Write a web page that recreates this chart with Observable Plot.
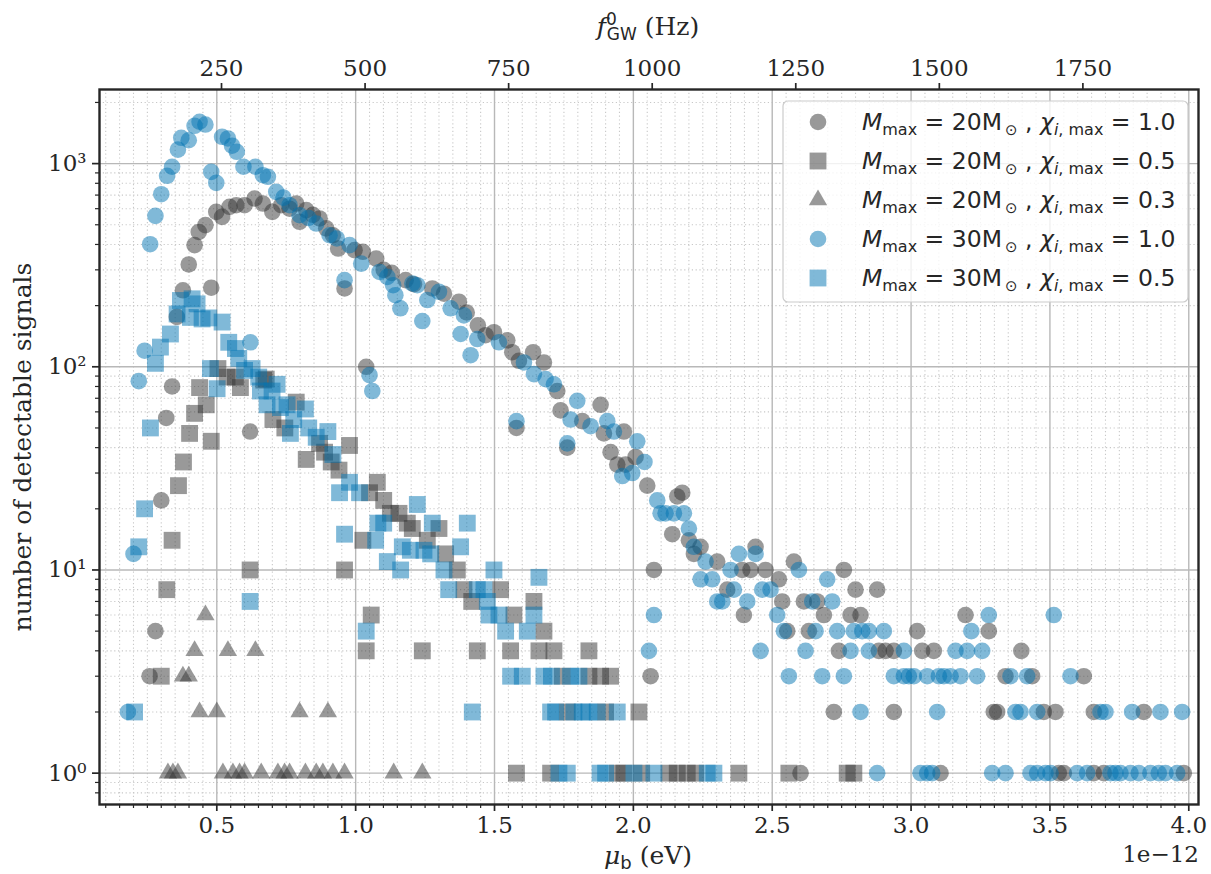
<!DOCTYPE html>
<html><head><meta charset="utf-8">
<script src="https://cdn.jsdelivr.net/npm/d3@7"></script>
<script src="https://cdn.jsdelivr.net/npm/@observablehq/plot@0.6"></script>
<style>
html,body{margin:0;padding:0;background:#fff;}
#chart{position:relative;width:1211px;height:874px;}
</style></head><body><div id="chart"></div>
<script>
// ---------------- DATA (mu_b in units of 1e-12 eV, number of detectable signals) ----------------
// M_max = 20 Msun, chi_max = 1.0 (grey circles)
const m20c10_x = [0.258,0.279,0.300,0.318,0.339,0.356,0.378,0.399,0.420,0.435,
0.459,0.480,0.498,0.519,0.546,0.570,0.600,0.620,0.636,0.666,
0.700,0.732,0.762,0.786,0.798,0.822,0.846,0.870,0.894,0.918,
0.937,0.960,0.996,1.026,1.038,1.074,1.101,1.130,1.180,1.210,
1.276,1.318,1.372,1.400,1.440,1.468,1.498,1.546,1.564,1.579,
1.588,1.639,1.678,1.726,1.738,1.762,1.816,1.882,1.894,1.918,
1.942,1.966,1.972,2.008,2.050,2.062,2.074,2.140,2.158,2.176,
2.200,2.218,2.242,2.302,2.338,2.392,2.398,2.422,2.440,2.476,
2.524,2.536,2.554,2.578,2.602,2.614,2.632,2.662,2.686,2.722,
2.740,2.758,2.782,2.800,2.818,2.878,2.884,2.908,2.938,2.938,
3.022,3.040,3.082,3.106,3.196,3.280,3.298,3.310,3.340,3.397,
3.436,3.478,3.520,3.532,3.550,3.622,3.658,3.658,3.694,3.838,
3.982];
const m20c10_y = [3,5,22,56,80,176,238,319,397,461,
498,245,579,547,613,624,624,48,673,636,
579,624,600,636,517,590,560,537,480,444,
382,243,375,368,100,341,300,290,267,255,
243,229,209,185,160,143,148,135,118,50,
107,118,105,76,61,40,54,65,47,38,
33,48,33,36,26,3,10,15,23,24,
14,12,13,11,8,10,6,10,13,10,
9,7,5,11,1,7,5,7,6,2,
4,10,6,8,6,8,4,4,4,2,
5,4,4,1,6,5,2,2,3,4,
3,2,2,1,1,3,2,1,1,2,
1];

// M_max = 20 Msun, chi_max = 0.5 (grey squares)
const m20c05_x = [0.300,0.320,0.339,0.362,0.380,0.402,0.420,0.438,0.462,0.480,
0.504,0.537,0.567,0.585,0.620,0.669,0.678,0.702,0.745,0.786,
0.822,0.870,0.888,0.912,0.940,0.960,0.978,1.026,1.038,1.050,
1.056,1.078,1.101,1.125,1.156,1.186,1.204,1.240,1.258,1.300,
1.324,1.366,1.390,1.418,1.438,1.522,1.558,1.570,1.579,1.642,
1.660,1.678,1.702,1.714,1.744,1.762,1.840,1.840,1.882,1.900,
1.918,1.942,1.966,2.020,2.030,2.128,2.158,2.194,2.224,2.380,
2.560,2.770,2.794];
const m20c05_y = [3,8,14,26,34,47,59,79,65,43,
98,89,89,79,10,86,87,55,50,67,
35,42,38,34,31,10,41,14,4,24,
6,27,22,19,19,17,16,4,14,16,
12,10,8,7,4,8,4,6,1,7,
4,5,1,4,3,2,4,3,3,2,
3,1,1,2,1,1,1,1,1,1,
1,1,1];

// M_max = 20 Msun, chi_max = 0.3 (grey triangles)
const m20c03_x = [0.324,0.342,0.360,0.378,0.399,0.420,0.438,0.459,0.500,0.522,
0.540,0.558,0.582,0.600,0.639,0.660,0.720,0.744,0.762,0.798,
0.819,0.858,0.882,0.900,0.918,0.960,1.137,1.240];
const m20c03_y = [1,1,1,3,3,4,2,6,2,1,
4,1,1,1,4,1,1,1,1,2,
1,1,1,2,1,1,1,1];

// M_max = 30 Msun, chi_max = 1.0 (blue circles)
const m30c10_x = [0.180,0.200,0.219,0.240,0.260,0.279,0.300,0.321,0.339,0.360,
0.372,0.399,0.420,0.438,0.459,0.480,0.498,0.519,0.540,0.555,
0.572,0.596,0.621,0.639,0.666,0.684,0.714,0.740,0.762,0.798,
0.830,0.858,0.906,0.932,0.960,0.978,1.020,1.050,1.060,1.086,
1.114,1.135,1.143,1.161,1.204,1.222,1.240,1.258,1.300,1.342,
1.378,1.390,1.414,1.438,1.516,1.579,1.606,1.642,1.684,1.714,
1.762,1.774,1.798,1.846,1.906,1.930,1.960,1.996,2.014,2.040,
2.056,2.074,2.086,2.098,2.116,2.146,2.182,2.200,2.218,2.242,
2.260,2.284,2.302,2.320,2.350,2.362,2.380,2.410,2.440,2.458,
2.464,2.494,2.518,2.542,2.560,2.596,2.620,2.644,2.656,2.680,
2.698,2.716,2.734,2.758,2.782,2.794,2.818,2.824,2.848,2.848,
2.878,2.902,2.938,2.974,2.974,2.992,3.010,3.034,3.058,3.058,
3.076,3.094,3.100,3.118,3.142,3.160,3.178,3.202,3.217,3.238,
3.256,3.280,3.292,3.340,3.358,3.376,3.394,3.418,3.430,3.454,
3.454,3.484,3.502,3.514,3.574,3.598,3.634,3.682,3.700,3.718,
3.736,3.754,3.790,3.796,3.820,3.862,3.892,3.898,3.916,3.958,
3.976];
const m30c10_y = [2,12,85,120,401,553,707,871,965,1172,
1340,1303,1535,1607,1557,911,804,1355,1330,1225,
1143,965,132,965,877,861,726,680,624,557,
540,507,444,428,267,397,322,91,76,293,
277,252,225,194,257,252,168,213,234,194,
145,179,114,137,132,54,105,92,87,82,
42,55,68,51,54,48,29,30,43,34,
4,6,22,19,19,19,19,16,13,9,
11,9,7,7,10,8,12,7,12,4,
8,8,6,5,3,10,4,7,5,3,
9,7,5,3,4,5,2,5,5,4,
1,5,3,3,4,3,3,1,1,3,
1,2,3,3,3,4,3,4,5,3,
4,6,1,1,3,2,2,3,1,2,
1,1,1,6,3,1,1,2,2,1,
1,1,1,2,1,1,1,2,1,1,
2];

// M_max = 30 Msun, chi_max = 0.5 (blue squares)
const m30c05_x = [0.204,0.219,0.240,0.261,0.279,0.297,0.333,0.357,0.369,0.405,
0.411,0.429,0.447,0.471,0.477,0.501,0.519,0.543,0.567,0.579,
0.600,0.620,0.627,0.651,0.657,0.681,0.699,0.717,0.729,0.753,
0.765,0.777,0.819,0.831,0.858,0.900,0.918,0.942,0.960,0.978,
1.014,1.038,1.072,1.080,1.101,1.114,1.162,1.168,1.197,1.222,
1.246,1.270,1.276,1.318,1.335,1.378,1.402,1.420,1.438,1.462,
1.474,1.480,1.498,1.516,1.540,1.558,1.600,1.618,1.642,1.660,
1.678,1.702,1.705,1.720,1.732,1.762,1.774,1.786,1.804,1.816,
1.840,1.870,1.880,1.900,1.942,2.002,2.074,2.266,2.290];
const m30c05_y = [2,13,20,50,104,125,145,182,212,175,
216,204,172,174,98,78,166,132,123,110,
96,7,98,89,76,65,76,82,63,65,
47,55,62,50,45,48,37,24,15,27,
24,5,14,17,17,11,10,13,12.5,21,
12.5,12,17,10,8,13,17,2,8,8,
7,6,10,6,5,3,3,5,6,9.2,
3,2,3,2,1,1,3,2,3,2,
2,2,1,1,2,1,1,1,1];

// Axis ticks
const xMajorTicks = [0.5,1.0,1.5,2.0,2.5,3.0,3.5,4.0];
const yMajorTicks = [1,10,100,1000];
const fTicks = [250,500,750,1000,1250,1500,1750];   // top axis, Hz

// Series table
const series = [
  {xs:m20c10_x, ys:m20c10_y, symbol:"circle",   color:"#333333", label:["20","1.0"]},
  {xs:m20c05_x, ys:m20c05_y, symbol:"square",   color:"#333333", label:["20","0.5"]},
  {xs:m20c03_x, ys:m20c03_y, symbol:"triangle", color:"#333333", label:["20","0.3"]},
  {xs:m30c10_x, ys:m30c10_y, symbol:"circle",   color:"#0173b2", label:["30","1.0"]},
  {xs:m30c05_x, ys:m30c05_y, symbol:"square",   color:"#0173b2", label:["30","0.5"]}
];

// ---------------- LAYOUT ----------------
const W = 1211, H = 874;
const M = {left: 99, right: 13, top: 89, bottom: 70};
const HZ_PER_UNIT = 2 / 4.135667696e-15 * 1e-12;  // f = 2 mu / h, mu in 1e-12 eV
const rOf = {circle: 8.3, square: 9.5, triangle: 6.8};
const OPAC = 0.5;

const xMinorTicks = d3.range(2, 81).map(i => i * 0.05).filter(v => Math.abs(v / 0.5 - Math.round(v / 0.5)) > 1e-6);
const yMinorTicks = [];
for (let k = -1; k <= 3; k++) for (let m = 2; m <= 9; m++) {
  const v = m * Math.pow(10, k);
  if (v > 0.705 && v < 2300) yMinorTicks.push(v);
}
const supDigits = {"0":"⁰","1":"¹","2":"²","3":"³","-":"⁻"};
const yFmt = d => "10" + String(Math.round(Math.log10(d))).split("").map(c => supDigits[c]).join("");

const ink = "#262626";
const dotMarks = series.map(s => Plot.dot(s.xs.map((x, i) => ({x, y: s.ys[i]})), {
  x: "x", y: "y", symbol: () => s.symbol, r: rOf[s.symbol],
  fill: s.color, fillOpacity: OPAC, stroke: "none"
}));

const plot = Plot.plot({
  width: W, height: H,
  marginLeft: M.left, marginRight: M.right, marginTop: M.top, marginBottom: M.bottom,
  style: {fontFamily: "'DejaVu Serif', serif", fontSize: "23px", color: ink, background: "white", overflow: "visible"},
  x: {domain: [0.0776, 4.035]},
  y: {type: "log", domain: [0.701, 2316]},
  symbol: {type: "identity"},
  marks: [
    Plot.ruleX(xMinorTicks, {stroke: "#c8c8c8", strokeWidth: 1.1, strokeDasharray: "1.2,2.6"}),
    Plot.ruleY(yMinorTicks, {stroke: "#c8c8c8", strokeWidth: 1.1, strokeDasharray: "1.2,2.6"}),
    Plot.ruleX(xMajorTicks, {stroke: "#b8b8b8", strokeWidth: 1.4}),
    Plot.ruleY(yMajorTicks, {stroke: "#b8b8b8", strokeWidth: 1.4}),
    ...dotMarks,
    Plot.frame({stroke: ink, strokeWidth: 2.4}),
    Plot.axisX({anchor: "bottom", ticks: xMajorTicks, tickFormat: d3.format(".1f"), tickSize: 7, tickPadding: 5, strokeWidth: 1.7, fontSize: 23, label: null}),
    Plot.axisX({anchor: "bottom", ticks: xMinorTicks, tickFormat: () => "", tickSize: 4, strokeWidth: 1.2, label: null}),
    Plot.axisX({anchor: "top", ticks: fTicks.map(f => f / HZ_PER_UNIT), tickFormat: d => String(Math.round(d * HZ_PER_UNIT)), tickSize: 7, tickPadding: 7, strokeWidth: 1.7, fontSize: 23, label: null}),
    Plot.axisY({anchor: "left", ticks: yMajorTicks, tickFormat: yFmt, tickSize: 7, tickPadding: 6, strokeWidth: 1.7, fontSize: 23, label: null}),
    Plot.axisY({anchor: "left", ticks: yMinorTicks, tickFormat: () => "", tickSize: 4, strokeWidth: 1.2, label: null})
  ]
});
document.getElementById("chart").appendChild(plot);

// ---------------- TEXT & LEGEND ----------------
const svg = d3.select(plot);
function rich(sel, x, y, parts, opts = {}) {
  const t = sel.append("text").attr("x", x).attr("y", y)
    .attr("font-family", opts.ff || "'DejaVu Serif', serif")
    .attr("font-size", opts.fs || 25).attr("fill", ink)
    .attr("text-anchor", opts.anchor || "start");
  if (opts.rotate) t.attr("transform", `rotate(${opts.rotate},${x},${y})`);
  parts.forEach(p => {
    const ts = t.append("tspan").text(p.t);
    if (p.i) ts.attr("font-style", "italic");
    if (p.fs) ts.attr("font-size", p.fs);
    if (p.ff) ts.attr("font-family", p.ff);
    if (p.dy) ts.attr("dy", p.dy);
    if (p.dx) ts.attr("dx", p.dx);
  });
  return t;
}
const sans = "'DejaVu Sans', sans-serif";
// axis labels
rich(svg, 648, 864, [{t: "μ", i: 1}, {t: "b", fs: 18, dy: 5, ff: sans}, {t: " (eV)", dy: -5}], {anchor: "middle"});
rich(svg, 1199, 862, [{t: "1e−12"}], {anchor: "end", fs: 23});
rich(svg, 648, 35, [{t: "f", i: 1}, {t: "0", fs: 17, dy: -10, ff: sans}, {t: "GW", fs: 17, dy: 15, dx: -10, ff: sans}, {t: " (Hz)", dy: -5}], {anchor: "middle"});
rich(svg, 31, 447, [{t: "number of detectable signals"}], {anchor: "middle", rotate: -90});

// legend
const lg = svg.append("g");
lg.append("rect").attr("x", 783).attr("y", 101).attr("width", 405).attr("height", 201).attr("rx", 5)
  .attr("fill", "white").attr("fill-opacity", 0.8).attr("stroke", "#cccccc").attr("stroke-width", 1.2);
const symMap = {circle: d3.symbolCircle, square: d3.symbolSquare, triangle: d3.symbolTriangle};
series.forEach((s, i) => {
  const cy = 122 + i * 39;
  lg.append("path").attr("transform", `translate(818,${cy})`)
    .attr("d", d3.symbol(symMap[s.symbol], Math.PI * rOf[s.symbol] ** 2)())
    .attr("fill", s.color).attr("fill-opacity", OPAC);
  rich(lg, 862, cy + 8, [
    {t: "M", i: 1}, {t: "max", fs: 16, dy: 5}, {t: " = " + s.label[0] + "M", dy: -5},
    {t: "⊙", fs: 15, dy: 5, dx: 3}, {t: " , ", dy: -5}, {t: "χ", i: 1}, {t: "i", i: 1, fs: 16, dy: 5},
    {t: ", max", fs: 16}, {t: " = " + s.label[1], dy: -5}
  ], {ff: sans, fs: 23.5});
});
</script></body></html>
